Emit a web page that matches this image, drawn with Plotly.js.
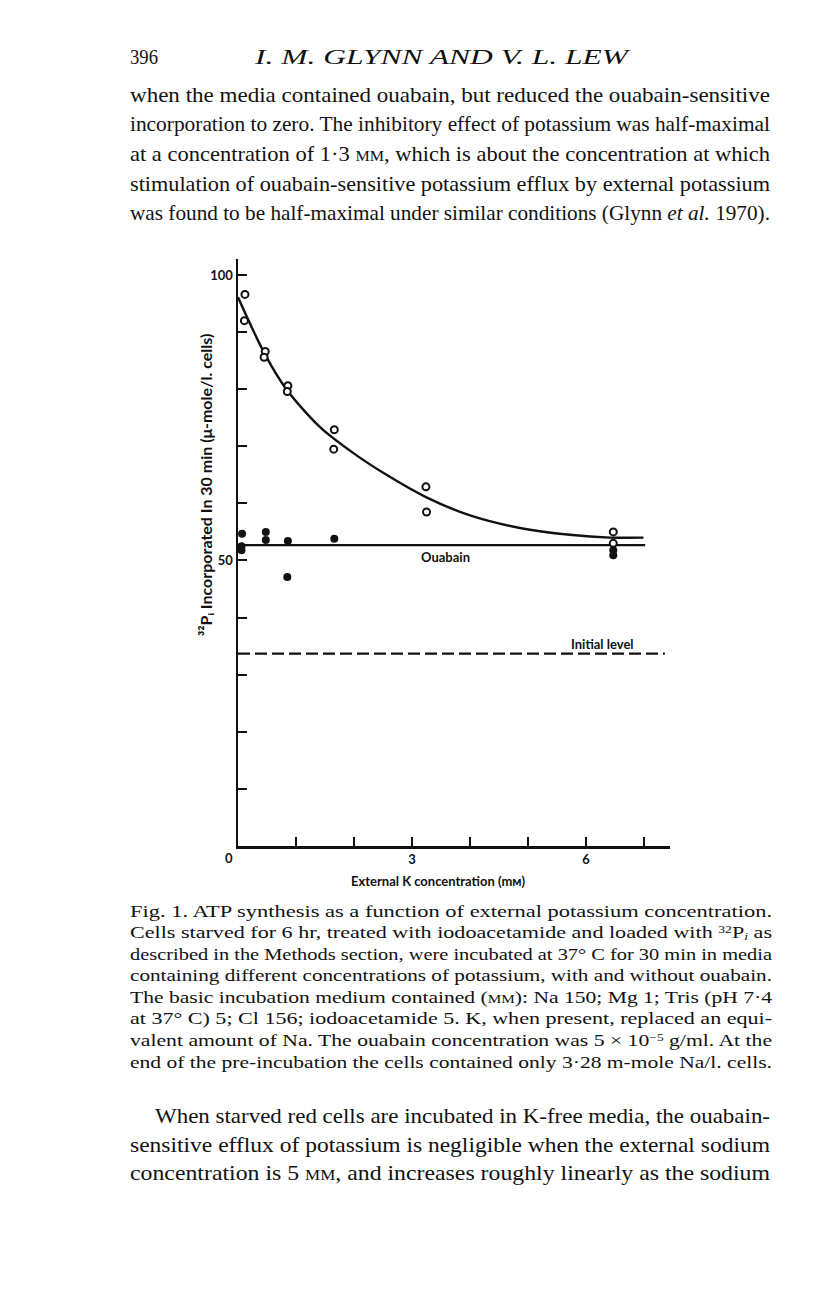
<!DOCTYPE html>
<html>
<head>
<meta charset="utf-8">
<script src="https://cdn.plot.ly/plotly-3.0.1.min.js"></script>
<style>
  html, body { margin:0; padding:0; background:#fff; }
  body { width:816px; height:1296px; position:relative; overflow:hidden; }
  #plot { position:absolute; left:0; top:0; width:816px; height:1296px; z-index:0; }
  .ln { position:absolute; white-space:nowrap; font-family:"Liberation Serif","DejaVu Serif",serif; color:#111; line-height:1; transform-origin:0 0; z-index:2; }
  .ln .up { position:relative; top:-0.45em; font-size:0.62em; line-height:1; }
  .ln .dn { position:relative; top:0.2em; font-size:0.62em; line-height:1; font-style:italic; }
  .sc { font-variant:small-caps; }
</style>
</head>
<body>
<div id="plot"></div>
<div id="text"></div>
<script>
// ---------------- data ----------------
// Open circles: no ouabain
var openX = [0.12, 0.11, 0.47, 0.45, 0.86, 0.85, 1.66, 1.65, 3.24, 3.25, 6.47, 6.47];
var openY = [96.6, 92.0, 86.6, 85.6, 80.6, 79.6, 72.9, 69.5, 62.9, 58.5, 55.0, 53.0];
// Filled circles: with ouabain
var filledX = [0.07, 0.06, 0.06, 0.48, 0.48, 0.86, 0.85, 1.66, 6.47, 6.47];
var filledY = [54.7, 52.5, 51.8, 55.0, 53.6, 53.4, 47.1, 53.8, 51.8, 50.9];
// Fitted curve through open circles
var curveX = [0, 0.47, 0.84, 1.41, 1.99, 2.56, 3.24, 4.0, 4.86, 5.72, 6.41, 6.99];
var curveY = [96.1, 86.0, 79.9, 73.4, 68.8, 65.0, 61.1, 57.9, 55.7, 54.5, 54.0, 54.0];
// Ouabain level line
var ouabainX = [0, 7.02];
var ouabainY = [52.7, 52.7];
// Initial level (dashed)
var initialX = [0, 7.36];
var initialY = [33.7, 33.7];
// Ticks
var xTickVals = [3, 6];
var xTickText = ['3', '6'];
var yTickVals = [50, 100];
var yTickText = ['50', '100'];

var sansFont = {family: 'Lato, "Open Sans", "DejaVu Sans", sans-serif', size: 13, color: '#111', weight: 700};
var titleFont = {family: 'Lato, "Open Sans", "DejaVu Sans", sans-serif', size: 16, color: '#111', weight: 700};

var traces = [
  {x: curveX, y: curveY, mode: 'lines', line: {color: '#111', width: 2.4, shape: 'spline', smoothing: 0.8}, hoverinfo: 'skip'},
  {x: ouabainX, y: ouabainY, mode: 'lines', line: {color: '#111', width: 2.4}, hoverinfo: 'skip'},
  {x: initialX, y: initialY, mode: 'lines', line: {color: '#111', width: 2.2, dash: '12px,5px'}, hoverinfo: 'skip'},
  {x: filledX, y: filledY, mode: 'markers', marker: {symbol: 'circle', size: 8, color: '#111'}},
  {x: openX, y: openY, mode: 'markers', marker: {symbol: 'circle', size: 7, color: '#fff', line: {color: '#111', width: 2}}}
];

var tickStyle = {ticks: 'inside', ticklen: 9, tickwidth: 2, tickcolor: '#111'};

var layout = {
  width: 816, height: 1296,
  margin: {l: 238, r: 146, t: 259, b: 450, pad: 0},
  paper_bgcolor: '#fff', plot_bgcolor: 'rgba(0,0,0,0)',
  showlegend: false,
  xaxis: Object.assign({
    range: [0, 7.448], showgrid: false, zeroline: false,
    showline: true, linecolor: '#111', linewidth: 2.5,
    tickmode: 'array', tickvals: xTickVals, ticktext: xTickText, tickfont: sansFont,
    minor: {tickmode: 'linear', tick0: 0, dtick: 1, ticks: 'inside', ticklen: 9, tickwidth: 2, tickcolor: '#111', showgrid: false},
    fixedrange: true
  }, tickStyle),
  yaxis: Object.assign({
    range: [0, 102.8], showgrid: false, zeroline: false,
    showline: true, linecolor: '#111', linewidth: 2.5,
    tickmode: 'array', tickvals: yTickVals, ticktext: yTickText, tickfont: sansFont,
    minor: {tickmode: 'linear', tick0: 0, dtick: 10, ticks: 'inside', ticklen: 9, tickwidth: 2, tickcolor: '#111', showgrid: false},
    fixedrange: true
  }, tickStyle),
  annotations: [
    {text: '0', xref: 'x', yref: 'paper', x: 0, y: 0, xshift: -9, yshift: -12, showarrow: false, font: sansFont, xanchor: 'center', yanchor: 'middle'},
    {text: 'External K concentration (mᴍ)', xref: 'x', yref: 'paper', x: 3.45, y: 0, yshift: -35, showarrow: false, font: sansFont, xanchor: 'center', yanchor: 'middle'},
    {text: '³²Pᵢ Incorporated In 30 min (μ-mole/l. cells)', xref: 'paper', yref: 'y', x: 0, xshift: -33, y: 63.2, textangle: -90, showarrow: false, font: titleFont, xanchor: 'center', yanchor: 'middle'},
    {text: 'Ouabain', xref: 'x', yref: 'y', x: 3.57, y: 50.6, showarrow: false, font: sansFont},
    {text: 'Initial level', xref: 'x', yref: 'y', x: 6.29, y: 35.4, showarrow: false, font: sansFont}
  ]
};

Plotly.newPlot('plot', traces, layout, {staticPlot: true, displayModeBar: false});

// ---------------- page text ----------------
var lines = [
  // [html, left, right, centerY, fontSize, italic]
  ['396', 130, 158, 56, 20, false],
  ['I. M. GLYNN AND V. L. LEW', 255, 628, 56, 20, true],
  ['when the media contained ouabain, but reduced the ouabain-sensitive', 130, 770, 95, 21, false],
  ['incorporation to zero. The inhibitory effect of potassium was half-maximal', 130, 770, 124, 21, false],
  ['at a concentration of 1·3 <span class="sc">mm</span>, which is about the concentration at which', 130, 770, 154, 21, false],
  ['stimulation of ouabain-sensitive potassium efflux by external potassium', 130, 770, 184, 21, false],
  ['was found to be half-maximal under similar conditions (Glynn <i>et al.</i> 1970).', 130, 770, 213, 21, false],
  ['Fig. 1. ATP synthesis as a function of external potassium concentration.', 130, 772, 911, 17, false],
  ['Cells starved for 6 hr, treated with iodoacetamide and loaded with <span class="up">32</span>P<span class="dn">i</span> as', 130, 772, 932, 17, false],
  ['described in the Methods section, were incubated at 37° C for 30 min in media', 130, 772, 954, 17, false],
  ['containing different concentrations of potassium, with and without ouabain.', 130, 772, 975, 17, false],
  ['The basic incubation medium contained (<span class="sc">mm</span>): Na 150; Mg 1; Tris (pH 7·4', 130, 772, 997, 17, false],
  ['at 37° C) 5; Cl 156; iodoacetamide 5. K, when present, replaced an equi-', 130, 772, 1018, 17, false],
  ['valent amount of Na. The ouabain concentration was 5 × 10<span class="up">−5</span> g/ml. At the', 130, 772, 1040, 17, false],
  ['end of the pre-incubation the cells contained only 3·28 m-mole Na/l. cells.', 130, 772, 1062, 17, false],
  ['When starved red cells are incubated in K-free media, the ouabain-', 155, 770, 1116, 21, false],
  ['sensitive efflux of potassium is negligible when the external sodium', 130, 770, 1145, 21, false],
  ['concentration is 5 <span class="sc">mm</span>, and increases roughly linearly as the sodium', 130, 770, 1173, 21, false]
];

var holder = document.getElementById('text');
var els = [];
lines.forEach(function (L) {
  var d = document.createElement('div');
  d.className = 'ln';
  d.innerHTML = L[0];
  d.style.left = L[1] + 'px';
  d.style.top = (L[3] - 0.47 * L[4]) + 'px';
  d.style.fontSize = L[4] + 'px';
  if (L[5]) d.style.fontStyle = 'italic';
  holder.appendChild(d);
  els.push([d, L[2] - L[1]]);
});
function fit() {
  els.forEach(function (p) {
    var d = p[0];
    d.style.transform = 'none';
    var w = d.getBoundingClientRect().width;
    if (w > 0) d.style.transform = 'scaleX(' + (p[1] / w) + ')';
  });
}
fit();
if (document.fonts && document.fonts.ready) document.fonts.ready.then(fit);
</script>
</body>
</html>
